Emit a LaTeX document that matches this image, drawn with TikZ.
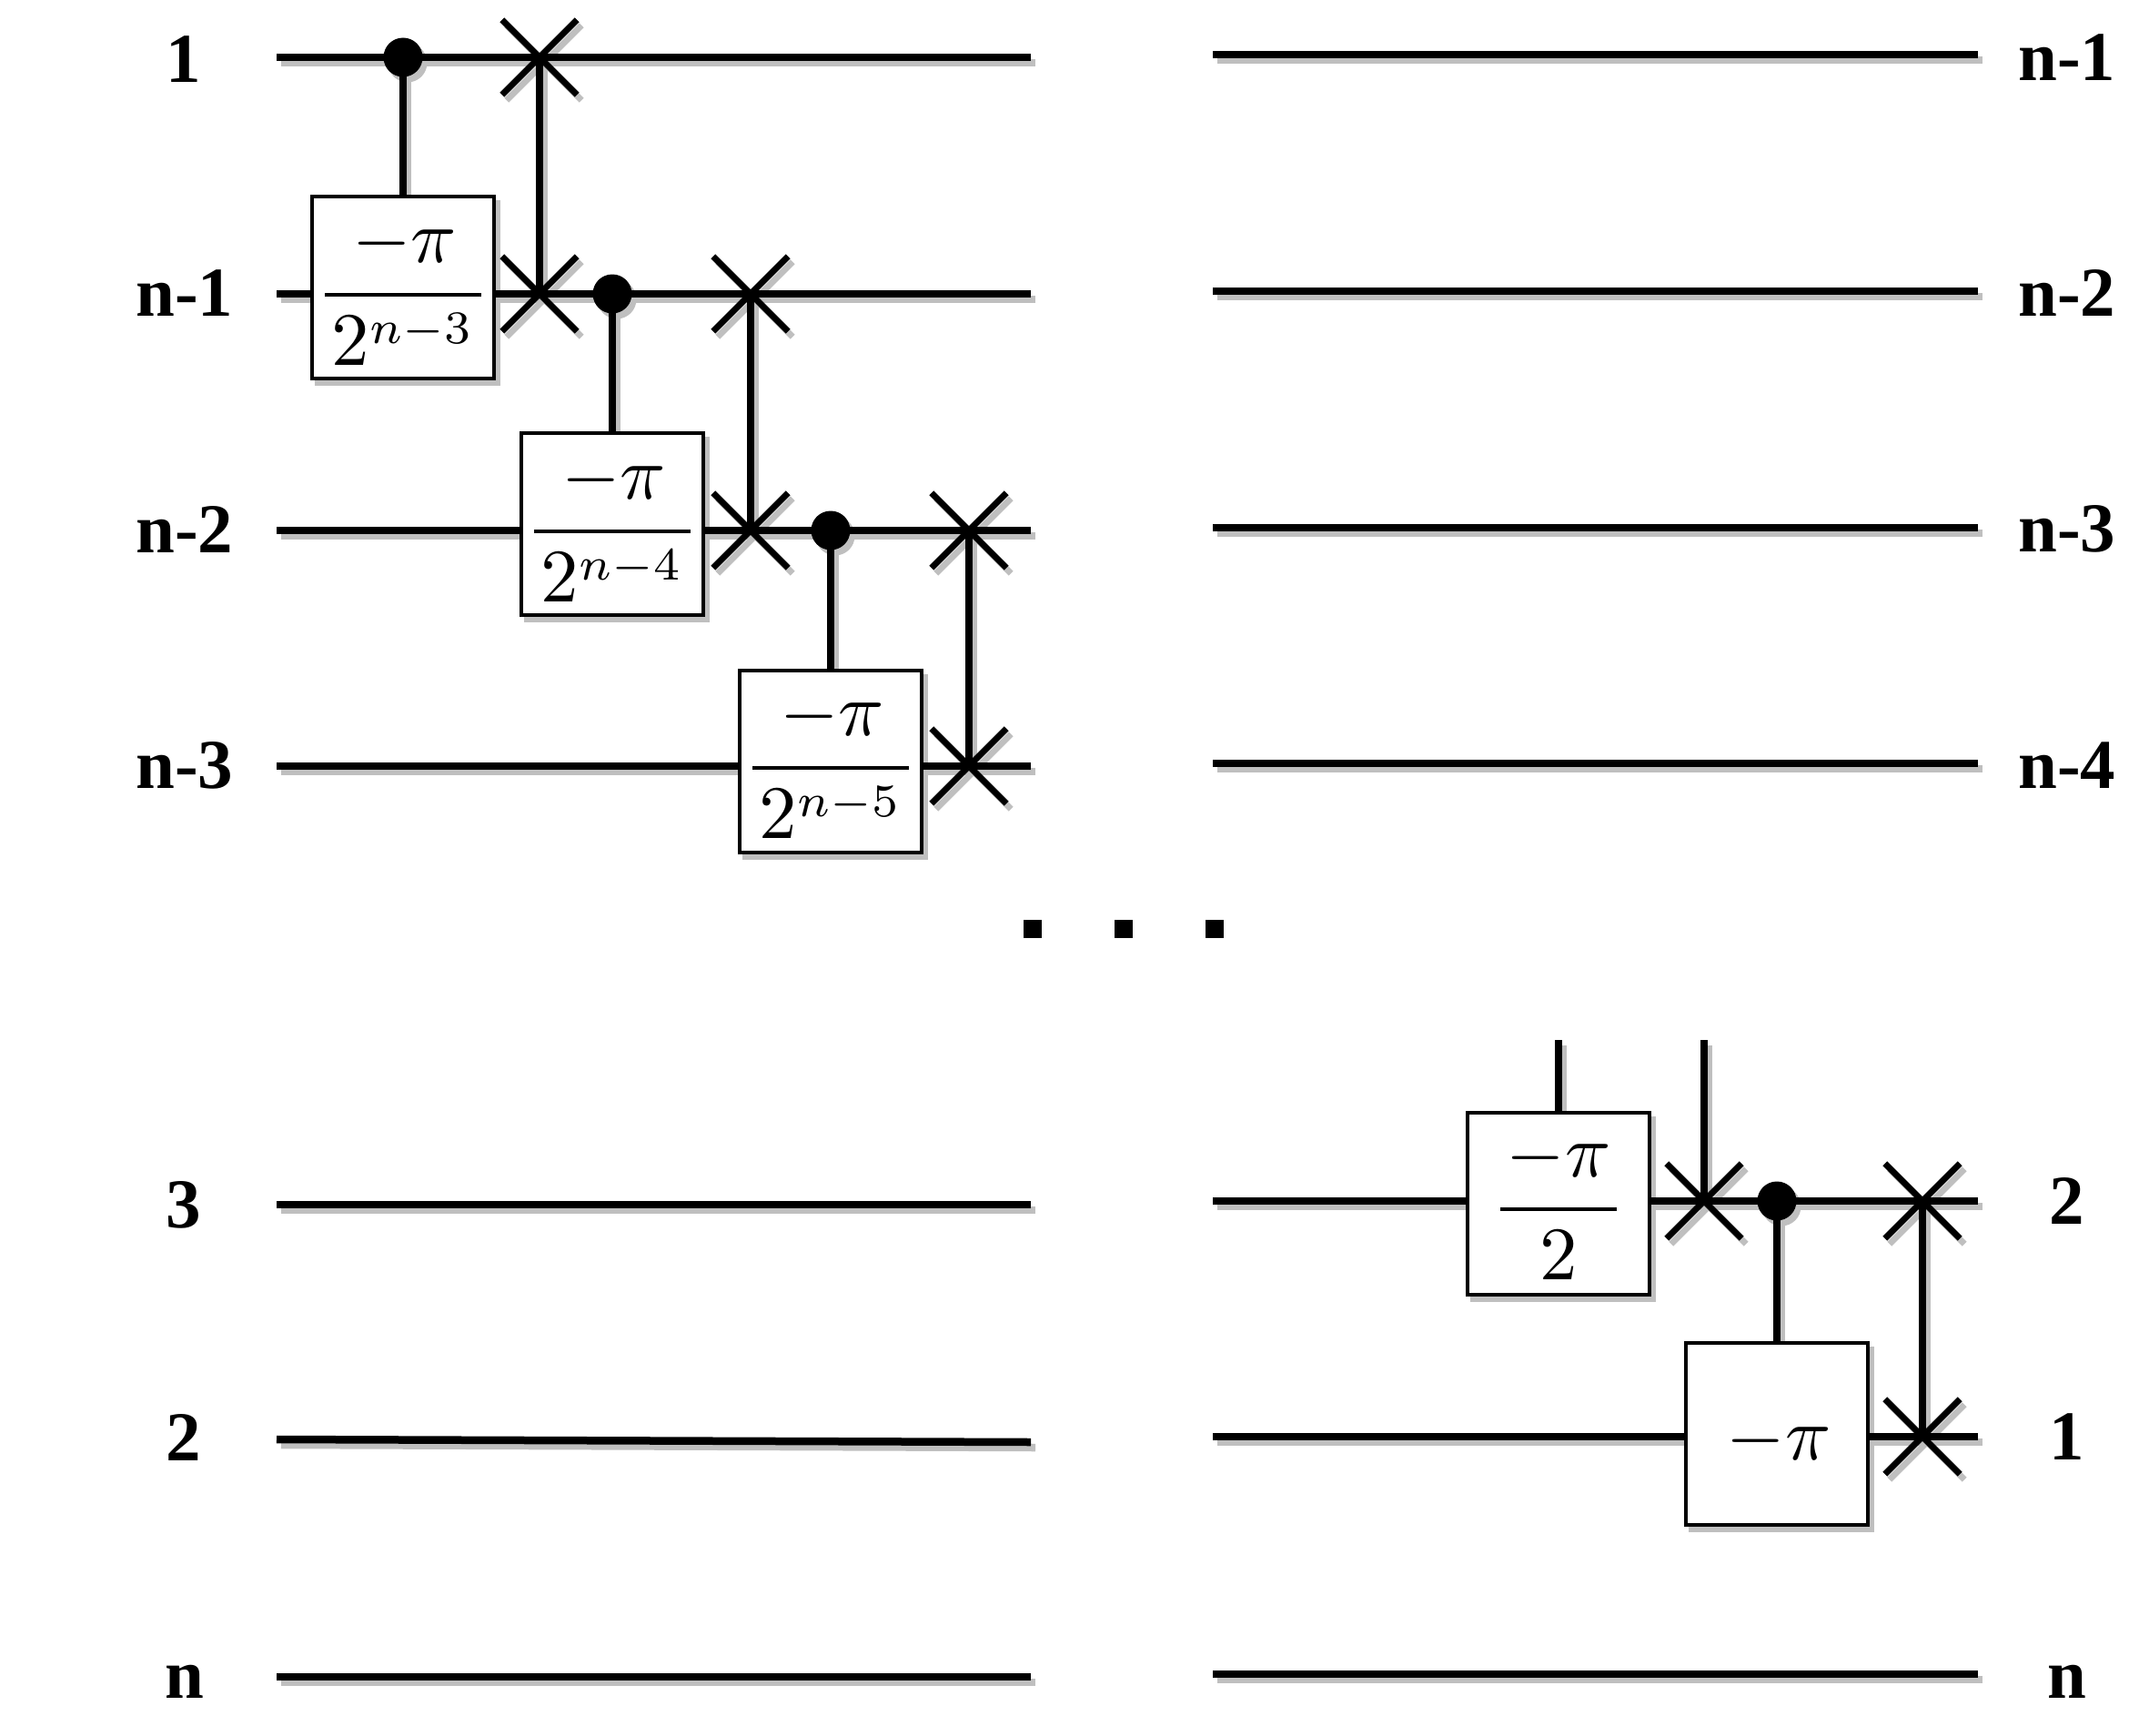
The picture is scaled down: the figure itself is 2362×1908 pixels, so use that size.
\documentclass[tikz,border=0pt]{standalone}
\usepackage{graphicx}
\usepackage{amsmath}
\usepackage{fontspec}
\setmainfont{Liberation Serif}
\pgfdeclarelayer{shadowlayer}
\pgfdeclarelayer{wirelayer}
\pgfsetlayers{shadowlayer,wirelayer,main}
\definecolor{shadowgray}{gray}{0.75}
\tikzset{
  wire/.style={line width=8.5pt},
  ctrl/.style={line width=7.5pt},
  arm/.style={line width=7pt},
  gatebox/.style={draw=black,line width=4pt,fill=white,minimum size=200pt,inner sep=0pt},
  formula/.style={inner sep=0pt},
  swapmark/.style={minimum size=82pt,inner sep=0pt},
  ctrldot/.style={circle,fill=black,minimum size=43pt,inner sep=0pt},
  wirelabel/.style={font=\fontsize{77}{80}\selectfont\bfseries,inner sep=0pt},
  dotmark/.style={fill=black,minimum size=20pt,inner sep=0pt},
}
\newcommand{\mathscaled}[1]{\scalebox{8.3}{$\displaystyle #1$}}
\newcommand{\gatefrac}[1]{\genfrac{}{}{0.55pt}{0}{\kern0.4pt-\pi}{\kern0.9pt 2^{\scalebox{0.88}{$\scriptstyle #1$}}\kern0.9pt}}
\newcommand{\swaparms}[2]{\draw[arm,#2] (#1.north west) -- (#1.south east) (#1.north east) -- (#1.south west);}
\newcommand{\links}[1]{%
  \draw[wire,#1] (a1) -- (a2);
  \draw[wire,#1] (b1) -- (b2);
  \draw[wire,#1] (c1) -- (c2);
  \draw[wire,#1] (d1) -- (d2);
  \draw[wire,#1] (e1) -- (e2);
  \draw[wire,#1] (f1) -- (f2);
  \draw[wire,#1] (g1) -- (g2);
  \draw[wire,#1] (h1) -- (h2);
  \draw[wire,#1] (i1) -- (i2);
  \draw[wire,#1] (j1) -- (j2);
  \draw[wire,#1] (k1) -- (k2);
  \draw[wire,#1] (l1) -- (l2);
  \draw[wire,#1] (m1) -- (m2);
  \draw[wire,#1] (o1) -- (o2);
  \draw[ctrl,#1] (dot1.center) -- (box1.north);
  \draw[ctrl,#1] (dot2.center) -- (box2.north);
  \draw[ctrl,#1] (dot3.center) -- (box3.north);
  \draw[ctrl,#1] (dot5.center) -- (box5.north);
  \draw[ctrl,#1] (top4) -- (box4.north);
  \draw[ctrl,#1] (topx) -- (sx7.center);
  \draw[ctrl,#1] (sx1.center) -- (sx2.center);
  \draw[ctrl,#1] (sx3.center) -- (sx4.center);
  \draw[ctrl,#1] (sx5.center) -- (sx6.center);
  \draw[ctrl,#1] (sx8.center) -- (sx9.center);
  \swaparms{sx1}{#1}\swaparms{sx2}{#1}\swaparms{sx3}{#1}\swaparms{sx4}{#1}\swaparms{sx5}{#1}
  \swaparms{sx6}{#1}\swaparms{sx7}{#1}\swaparms{sx8}{#1}\swaparms{sx9}{#1}
}
\begin{document}
\begin{tikzpicture}[x=1pt,y=-1pt]
\useasboundingbox (0,0) rectangle (2362,1908);
% wire ends
\coordinate (a1) at (304,63);  \coordinate (a2) at (1133,63);
\coordinate (b1) at (304,323); \coordinate (b2) at (1133,323);
\coordinate (c1) at (304,583); \coordinate (c2) at (1133,583);
\coordinate (d1) at (304,842); \coordinate (d2) at (1133,842);
\coordinate (e1) at (304,1324);\coordinate (e2) at (1133,1324);
\coordinate (f1) at (304,1582);\coordinate (f2) at (1133,1585);
\coordinate (g1) at (304,1843);\coordinate (g2) at (1133,1843);
\coordinate (h1) at (1333,60); \coordinate (h2) at (2174,60);
\coordinate (i1) at (1333,320);\coordinate (i2) at (2174,320);
\coordinate (j1) at (1333,580);\coordinate (j2) at (2174,580);
\coordinate (k1) at (1333,839);\coordinate (k2) at (2174,839);
\coordinate (l1) at (1333,1320);\coordinate (l2) at (2174,1320);
\coordinate (m1) at (1333,1579);\coordinate (m2) at (2174,1579);
\coordinate (o1) at (1333,1840);\coordinate (o2) at (2174,1840);
\coordinate (top4) at (1713,1143);
\coordinate (topx) at (1873,1143);
% gates
\node[gatebox] (box1) at (443,316) {};
\node[gatebox] (box2) at (673,576) {};
\node[gatebox] (box3) at (913,836.5) {};
\node[gatebox] (box4) at (1713,1323) {};
\node[gatebox] (box5) at (1953,1576) {};
\node[formula] (form1) at (443,321) {\mathscaled{\gatefrac{n-3}}};
\node[formula] (form2) at (673,581) {\mathscaled{\gatefrac{n-4}}};
\node[formula] (form3) at (913,841) {\mathscaled{\gatefrac{n-5}}};
\node[formula] (form4) at (1713,1326) {\mathscaled{\genfrac{}{}{0.55pt}{0}{\kern.8pt-\pi\kern.8pt}{2}}};
\node[formula] (form5) at (1955,1584) {\mathscaled{-\pi}};
% controls
\node[ctrldot] (dot1) at (443,63) {};
\node[ctrldot] (dot2) at (673,323) {};
\node[ctrldot] (dot3) at (913,583) {};
\node[ctrldot] (dot5) at (1953,1320) {};
% swaps
\node[swapmark] (sx1) at (593,63) {};
\node[swapmark] (sx2) at (593,323) {};
\node[swapmark] (sx3) at (825,323) {};
\node[swapmark] (sx4) at (825,583) {};
\node[swapmark] (sx5) at (1065,583) {};
\node[swapmark] (sx6) at (1065,842) {};
\node[swapmark] (sx7) at (1873,1320) {};
\node[swapmark] (sx8) at (2113,1320) {};
\node[swapmark] (sx9) at (2113,1579) {};
% labels
\node[wirelabel] (la) at (202,65) {1};
\node[wirelabel] (lb) at (203,322) {n-1};
\node[wirelabel] (lc) at (203,582) {n-2};
\node[wirelabel] (ld) at (203,841) {n-3};
\node[wirelabel] (le) at (202,1324) {3};
\node[wirelabel] (lf) at (202,1580) {2};
\node[wirelabel] (lg) at (203,1848) {n};
\node[wirelabel] (ra) at (2272,63) {n-1};
\node[wirelabel] (rb) at (2272,322) {n-2};
\node[wirelabel] (rc) at (2272,581) {n-3};
\node[wirelabel] (rd) at (2272,841) {n-4};
\node[wirelabel] (re) at (2272,1320) {2};
\node[wirelabel] (rf) at (2272,1579) {1};
\node[wirelabel] (rg) at (2272,1848) {n};
% ellipsis
\node[dotmark] (el1) at (1135,1021) {};
\node[dotmark] (el2) at (1235,1021) {};
\node[dotmark] (el3) at (1335,1021) {};
% black connectors under the gates
\begin{pgfonlayer}{wirelayer}
\links{black}
\end{pgfonlayer}
% shadows
\begin{pgfonlayer}{shadowlayer}
\begin{scope}[transform canvas={shift={(5pt,-6pt)}}]
\links{shadowgray}
\fill[shadowgray] (dot1) circle[radius=21.5pt] (dot2) circle[radius=21.5pt] (dot3) circle[radius=21.5pt] (dot5) circle[radius=21.5pt];
\fill[shadowgray] (box1.north west) rectangle (box1.south east);
\fill[shadowgray] (box2.north west) rectangle (box2.south east);
\fill[shadowgray] (box3.north west) rectangle (box3.south east);
\fill[shadowgray] (box4.north west) rectangle (box4.south east);
\fill[shadowgray] (box5.north west) rectangle (box5.south east);
\end{scope}
\end{pgfonlayer}
\end{tikzpicture}
\end{document}
